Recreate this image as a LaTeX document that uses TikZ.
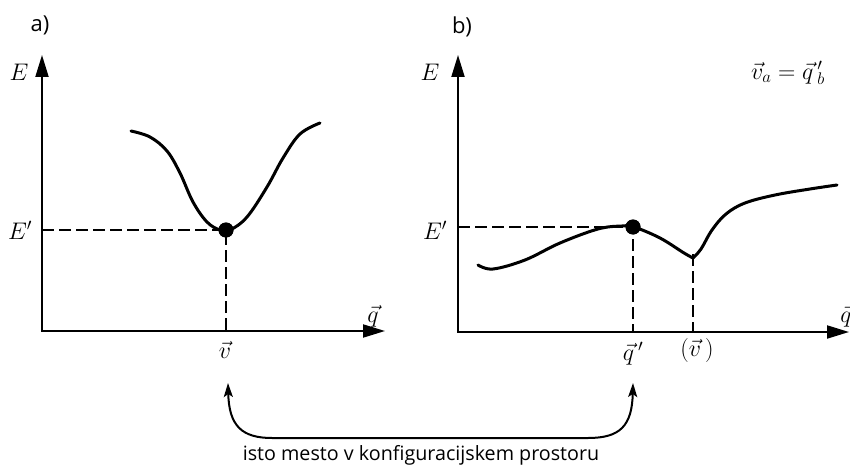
\RequirePackage{fix-cm}
\documentclass[tikz,border=0pt]{standalone}
\usepackage{fontspec}
\setsansfont{Open Sans}
\usetikzlibrary{arrows.meta}
\newcommand\mylblfont{\fontsize{24}{26}\selectfont}
\newcommand\mypanelfont{\sffamily\fontsize{22}{24}\selectfont}
\newcommand\mycapfont{\sffamily\fontsize{19.7}{22}\selectfont}
\tikzset{
  axes/.style={line width=2pt,line join=miter,{Triangle[length=22pt,width=13pt]}-{Triangle[length=22pt,width=13pt]}},
  curve/.style={line width=3pt,line cap=round,line join=round},
  guide/.style={line width=1.8pt,dash pattern=on 12pt off 5pt},
  dotmark/.style={circle,fill=black,inner sep=0pt,minimum size=15pt},
  mylbl/.style={inner sep=0pt,font=\mylblfont},
  mypanel/.style={inner sep=0pt,font=\mypanelfont},
  mycap/.style={inner sep=0pt,anchor=base,font=\mycapfont},
  link/.style={line width=2pt,{Stealth[length=14pt,width=9pt,inset=3pt]}-{Stealth[length=14pt,width=9pt,inset=3pt]}}
}
\begin{document}
\begin{tikzpicture}[x=1pt,y=-1pt]
\useasboundingbox (0,0) rectangle (850,465);

% ---------- panel a ----------
\coordinate (Oa) at (42,331);
\coordinate (Ya) at (42,55);
\coordinate (Xa) at (385,331);
\draw[axes] (Ya) -- (Oa) -- (Xa);
\node[mypanel] (pa) at (40,25) {a)};
\node[mylbl] (Ea) at (19,72) {$E$};
\node[mylbl] (Epa) at (20,230) {$E'$};
\node[mylbl] (qa) at (373,316) {$\vec q$};
\node[mylbl] (va) at (225,350) {$\vec v$};
\draw[curve] plot[smooth,tension=0.6] coordinates {(131,131) (150,137) (167,151) (180,173) (193,202) (207,222) (220,230) (230,230) (247,217) (267,187) (283,158) (300,134) (320,123)};
\node[dotmark] (da) at (226,230) {};
\draw[guide] (Oa |- da) -- (da.center) -- (da |- Oa);
\node[dotmark] at (da) {};

% ---------- panel b ----------
\coordinate (Ob) at (458,332);
\coordinate (Yb) at (458,55);
\coordinate (Xb) at (849,332);
\draw[axes] (Yb) -- (Ob) -- (Xb);
\node[mypanel] (pb) at (462,27) {b)};
\node[mylbl] (Eb) at (430,72) {$E$};
\node[mylbl] (Epb) at (435,230) {$E'$};
\node[mylbl] (qb) at (846,316) {$\vec q$};
\node[mylbl] (qpb) at (633,354) {$\vec q\,'$};
\node[mylbl] (vb) at (697,350) {$(\vec v\,)$};
\node[mylbl] (eq) at (788,73) {$\vec v_a=\vec q\,'_b$};
\coordinate (mb) at (693,258);
\draw[curve] plot[smooth,tension=0.6] coordinates {(478,265) (493,269) (525,260) (560,243) (598,229) (622,226) (634,227) (660,238) (684,253) (mb)};
\draw[curve] plot[smooth,tension=0.6] coordinates {(mb) (701,249) (712,230) (726,214) (745,203) (775,195) (810,189) (837,185)};
\node[dotmark] (db) at (633,227) {};
\draw[guide] (Ob |- db) -- (db.center) -- (db |- Ob);
\draw[guide] ([yshift=4pt]mb) -- (mb |- Ob);
\node[dotmark] at (db) {};

% ---------- link ----------
\coordinate (la) at (228,383);
\coordinate (ra) at (633,383);
\draw[link] (la) .. controls (229,426) and (242,438) .. (272,438) -- (588,438) .. controls (620,438) and (632,426) .. (ra);
\node[mycap] (cap) at (421,460) {isto mesto v konfiguracijskem prostoru};
\end{tikzpicture}
\end{document}
